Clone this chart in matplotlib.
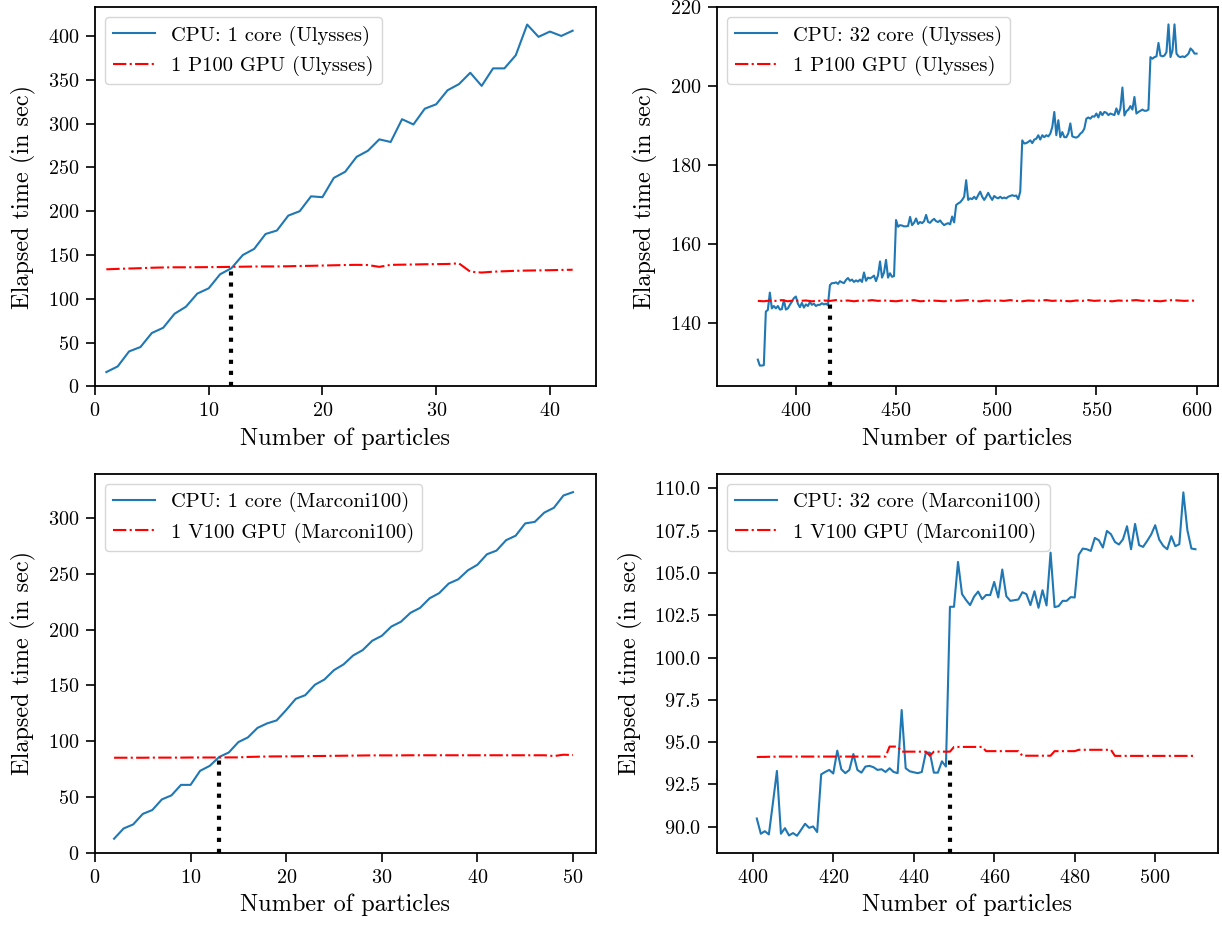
import matplotlib
matplotlib.use("Agg")
import matplotlib.pyplot as plt
from matplotlib.ticker import MultipleLocator

plt.rcParams['font.family'] = ['cmr10', 'DejaVu Serif']
plt.rcParams['mathtext.fontset'] = 'cm'
plt.rcParams['axes.formatter.use_mathtext'] = True
plt.rcParams['axes.unicode_minus'] = False
plt.rcParams['axes.linewidth'] = 1.3

# --- Ulysses, 1 core vs 1 P100 ---
ul1_x = list(range(1, 43))
ul1_cpu = [16.4, 22.9, 40, 45, 61, 67, 83, 91, 106, 112, 128, 135, 150, 157, 174, 178,
           195, 200, 217, 216, 238, 245, 262, 269, 282, 279, 305, 299, 317, 322, 338, 345,
           358, 343, 363, 363, 378, 413, 399, 405, 400, 406]
ul1_gpu = [133.7, 134.2, 134.6, 135.0, 135.5, 135.8, 136.0, 136.0, 136.1, 136.2, 136.3, 136.5,
           136.7, 136.9, 137.0, 137.0, 137.2, 137.5, 137.7, 138.0, 138.3, 138.6, 138.8, 138.6,
           136.5, 138.8, 139.0, 139.2, 139.5, 139.6, 139.8, 140.5, 131.0, 130.0, 131.0, 131.5,
           132.0, 132.3, 132.5, 132.7, 133.0, 133.2]
ul1_cross = 12

# --- Ulysses, 32 cores vs 1 P100 ---
ul32_x = list(range(381, 601))
ul32_cpu = [
    130.6, 129.1, 129.1, 129.2, 142.8, 143.2, 147.6, 143.6, 144.2, 143.6,   # 381-390
    144.2, 143.3, 143.4, 145.7, 143.3, 143.6, 144.5, 145.3, 146.2, 146.6,   # 391-400
    144.8, 143.9, 145.0, 143.8, 144.6, 144.2, 145.2, 144.5, 144.8, 144.2,   # 401-410
    144.5, 144.5, 144.9, 144.6, 144.8, 144.4, 149.5, 150.0, 150.0, 150.2,   # 411-420
    149.8, 150.5, 150.2, 150.0, 150.8, 151.3, 150.6, 150.9, 150.3, 150.7,   # 421-430
    150.4, 150.9, 150.3, 152.7, 150.6, 151.4, 151.2, 151.5, 151.9, 150.5,   # 431-440
    152.0, 155.5, 151.4, 152.7, 155.9, 151.4, 152.5, 151.6, 151.8, 166.0,   # 441-450
    164.3, 164.7, 164.6, 164.4, 164.4, 164.5, 166.8, 164.7, 165.3, 166.4,   # 451-460
    165.0, 165.5, 165.2, 165.7, 167.3, 165.5, 165.3, 165.9, 166.3, 165.7,   # 461-470
    165.5, 165.9, 165.2, 164.7, 165.0, 165.2, 164.9, 166.9, 165.4, 169.8,   # 471-480
    170.2, 170.5, 171.1, 171.9, 176.1, 171.1, 171.5, 171.3, 171.9, 171.3,   # 481-490
    172.3, 173.2, 171.9, 171.1, 171.9, 172.9, 171.9, 171.1, 172.1, 171.7,   # 491-500
    171.5, 171.9, 171.5, 171.7, 171.5, 171.9, 172.1, 172.3, 172.1, 172.2,   # 501-510
    171.3, 173.2, 186.2, 185.4, 185.5, 185.8, 186.2, 185.5, 186.4, 186.6,   # 511-520
    187.5, 186.4, 187.5, 187.0, 187.5, 187.2, 187.9, 189.6, 193.4, 187.5,   # 521-530
    191.3, 187.0, 188.3, 187.0, 187.0, 188.0, 190.5, 187.2, 187.0, 186.9,   # 531-540
    187.2, 187.9, 188.3, 189.2, 191.7, 192.0, 191.7, 192.3, 192.2, 193.0,   # 541-550
    192.0, 193.4, 192.6, 193.4, 193.2, 192.6, 193.0, 192.8, 192.6, 194.3,   # 551-560
    192.8, 194.3, 199.6, 192.5, 193.6, 194.0, 194.9, 194.0, 197.2, 193.0,   # 561-570
    193.4, 193.7, 194.0, 193.7, 193.7, 194.0, 207.3, 206.9, 207.3, 207.5,   # 571-580
    210.9, 207.7, 207.5, 207.7, 208.6, 215.6, 207.3, 209.0, 215.6, 208.2,   # 581-590
    207.5, 207.3, 207.5, 207.3, 207.7, 208.2, 209.5, 209.0, 208.2, 208.2,   # 591-600
]
ul32_gpu_x = list(range(381, 601, 3))
ul32_gpu = [145.5, 145.4, 145.6, 145.5, 145.7, 145.4, 145.6, 145.5, 145.6, 145.4,
            145.5, 145.6, 145.5, 145.7, 145.5, 145.6, 145.4, 145.6, 145.5, 145.7,
            145.5, 145.6, 145.5, 145.4, 145.6, 145.5, 145.7, 145.4, 145.5, 145.6,
            145.5, 145.4, 145.6, 145.5, 145.6, 145.7, 145.5, 145.4, 145.6, 145.5,
            145.6, 145.5, 145.7, 145.5, 145.4, 145.6, 145.5, 145.6, 145.7, 145.5,
            145.6, 145.5, 145.4, 145.6, 145.5, 145.7, 145.5, 145.6, 145.5, 145.4,
            145.6, 145.5, 145.6, 145.7, 145.5, 145.6, 145.5, 145.4, 145.6, 145.7,
            145.6, 145.5, 145.6, 145.5]
ul32_cross = 417
ul32_cross_y = 145.5

# --- Marconi100, 1 core vs 1 V100 ---
m1_x = list(range(2, 51))
m1_cpu = [12.8, 22, 25.6, 35, 38.5, 48, 51.6, 61, 61, 73.6, 78, 86, 90, 99.3, 103.5, 112,
          116, 118.7, 128, 138, 141.3, 150.6, 155.3, 163.7, 168.8, 176.8, 181.6, 190, 194.4,
          202.7, 207, 215, 219.4, 228, 232.6, 241.2, 245, 253, 258, 267.4, 270.7, 280, 284,
          295, 296.4, 304.7, 309, 320, 323]
m1_gpu = [85.3, 85.3, 85.3, 85.3, 85.4, 85.4, 85.4, 85.4, 85.5, 85.5, 85.5, 85.5, 85.6, 85.6,
          86.0, 86.2, 86.4, 86.5, 86.5, 86.6, 86.7, 86.8, 86.9, 87.0, 87.1, 87.2, 87.3, 87.4,
          87.4, 87.4, 87.4, 87.5, 87.5, 87.5, 87.5, 87.5, 87.5, 87.5, 87.5, 87.5, 87.5, 87.5,
          87.5, 87.5, 87.5, 87.5, 86.8, 88.0, 87.7]
m1_cross = 13

# --- Marconi100, 32 cores vs 1 V100 ---
m32_x = list(range(401, 511))
m32_cpu = [
    90.49, 89.59, 89.74, 89.55, 91.40, 93.30, 89.59, 89.92, 89.49, 89.63,   # 401-410
    89.47, 89.82, 90.18, 89.94, 90.02, 89.69, 93.10, 93.24, 93.36, 93.15,   # 411-420
    94.50, 93.40, 93.17, 93.36, 94.30, 93.36, 93.20, 93.56, 93.60, 93.52,   # 421-430
    93.36, 93.40, 93.24, 93.46, 93.24, 93.17, 96.90, 93.46, 93.28, 93.22,   # 431-440
    93.17, 93.24, 94.38, 94.38, 93.20, 93.20, 93.87, 93.56, 103.0, 103.0,   # 441-450
    105.65, 103.75, 103.4, 103.1, 103.6, 103.9, 103.45, 103.7, 103.69, 104.47,  # 451-460
    103.55, 105.2, 103.63, 103.35, 103.39, 103.43, 103.86, 103.75, 103.1, 103.92,  # 461-470
    102.94, 103.98, 103.08, 106.2, 102.98, 103.04, 103.35, 103.35, 103.57, 103.55,  # 471-480
    106.07, 106.44, 106.4, 106.3, 107.07, 106.93, 106.5, 107.48, 107.29, 106.83,  # 481-490
    106.68, 106.99, 107.76, 106.4, 107.9, 106.64, 106.54, 106.89, 107.27, 107.82,  # 491-500
    106.97, 106.6, 106.4, 107.17, 106.58, 106.7, 109.76, 107.52, 106.44, 106.4,   # 501-510
]
m32_gpu = [
    94.12, 94.13, 94.13, 94.14, 94.14, 94.15, 94.15, 94.15, 94.15, 94.15,
    94.15, 94.15, 94.15, 94.15, 94.15, 94.15, 94.15, 94.15, 94.15, 94.15,
    94.15, 94.15, 94.15, 94.15, 94.15, 94.15, 94.15, 94.15, 94.15, 94.15,
    94.15, 94.15, 94.15, 94.74, 94.74, 94.74, 94.44, 94.44, 94.44, 94.44,
    94.44, 94.44, 94.44, 94.20, 94.44, 94.44, 94.44, 94.44, 94.44, 94.72,
    94.72, 94.72, 94.72, 94.72, 94.72, 94.72, 94.72, 94.47, 94.47, 94.47,
    94.47, 94.47, 94.47, 94.47, 94.47, 94.47, 94.20, 94.20, 94.20, 94.20,
    94.20, 94.20, 94.20, 94.20, 94.47, 94.47, 94.47, 94.47, 94.47, 94.47,
    94.55, 94.55, 94.55, 94.55, 94.55, 94.55, 94.55, 94.55, 94.55, 94.19,
    94.19, 94.19, 94.19, 94.19, 94.19, 94.19, 94.19, 94.19, 94.19, 94.19,
    94.19, 94.19, 94.19, 94.19, 94.19, 94.19, 94.19, 94.19, 94.19, 94.19,
]
m32_cross = 449
m32_cross_y = 94.3

fig, axes = plt.subplots(2, 2, figsize=(12.22, 9.26), dpi=100)
fig.subplots_adjust(left=0.0777, right=0.9967, top=0.9924, bottom=0.0788,
                    wspace=0.2415, hspace=0.2296)


def panel(ax, cx, cy, cpu_lab, gx, gy, gpu_lab, xlim, ylim, cross_x, cross_y, xstep=None):
    ax.plot(cx, cy, color='tab:blue', lw=1.5, label=cpu_lab)
    ax.plot(gx, gy, color='red', ls='-.', lw=1.5, label=gpu_lab)
    ax.set_xlim(*xlim)
    ax.set_ylim(*ylim)
    if xstep:
        ax.xaxis.set_major_locator(MultipleLocator(xstep))
    # dotted marker from the x axis up to the crossover point
    ax.plot([cross_x, cross_x], [ylim[0], cross_y], color='black', ls=':', lw=3)
    ax.set_xlabel('Number of particles', fontsize=17.5, labelpad=5)
    ax.set_ylabel('Elapsed time (in sec)', fontsize=17.5, labelpad=8)
    ax.tick_params(labelsize=14.5, length=6.5, width=1.2, pad=5)
    ax.legend(loc='upper left', fontsize=14.8)


panel(axes[0, 0], ul1_x, ul1_cpu, 'CPU: 1 core (Ulysses)', ul1_x, ul1_gpu,
      '1 P100 GPU (Ulysses)', (0, 44.05), (0, 433), ul1_cross, 136.5, xstep=10)
panel(axes[0, 1], ul32_x, ul32_cpu, 'CPU: 32 core (Ulysses)', ul32_gpu_x, ul32_gpu,
      '1 P100 GPU (Ulysses)', (360.6, 610.7), (123.8, 220.0), ul32_cross, ul32_cross_y)
panel(axes[1, 0], m1_x, m1_cpu, 'CPU: 1 core (Marconi100)', m1_x, m1_gpu,
      '1 V100 GPU (Marconi100)', (0, 52.4), (0, 339.6), m1_cross, 85.6)
panel(axes[1, 1], m32_x, m32_cpu, 'CPU: 32 core (Marconi100)', m32_x, m32_gpu,
      '1 V100 GPU (Marconi100)', (391.1, 515.6), (88.45, 110.87), m32_cross, m32_cross_y)

fig.savefig('out.png', dpi=100)
